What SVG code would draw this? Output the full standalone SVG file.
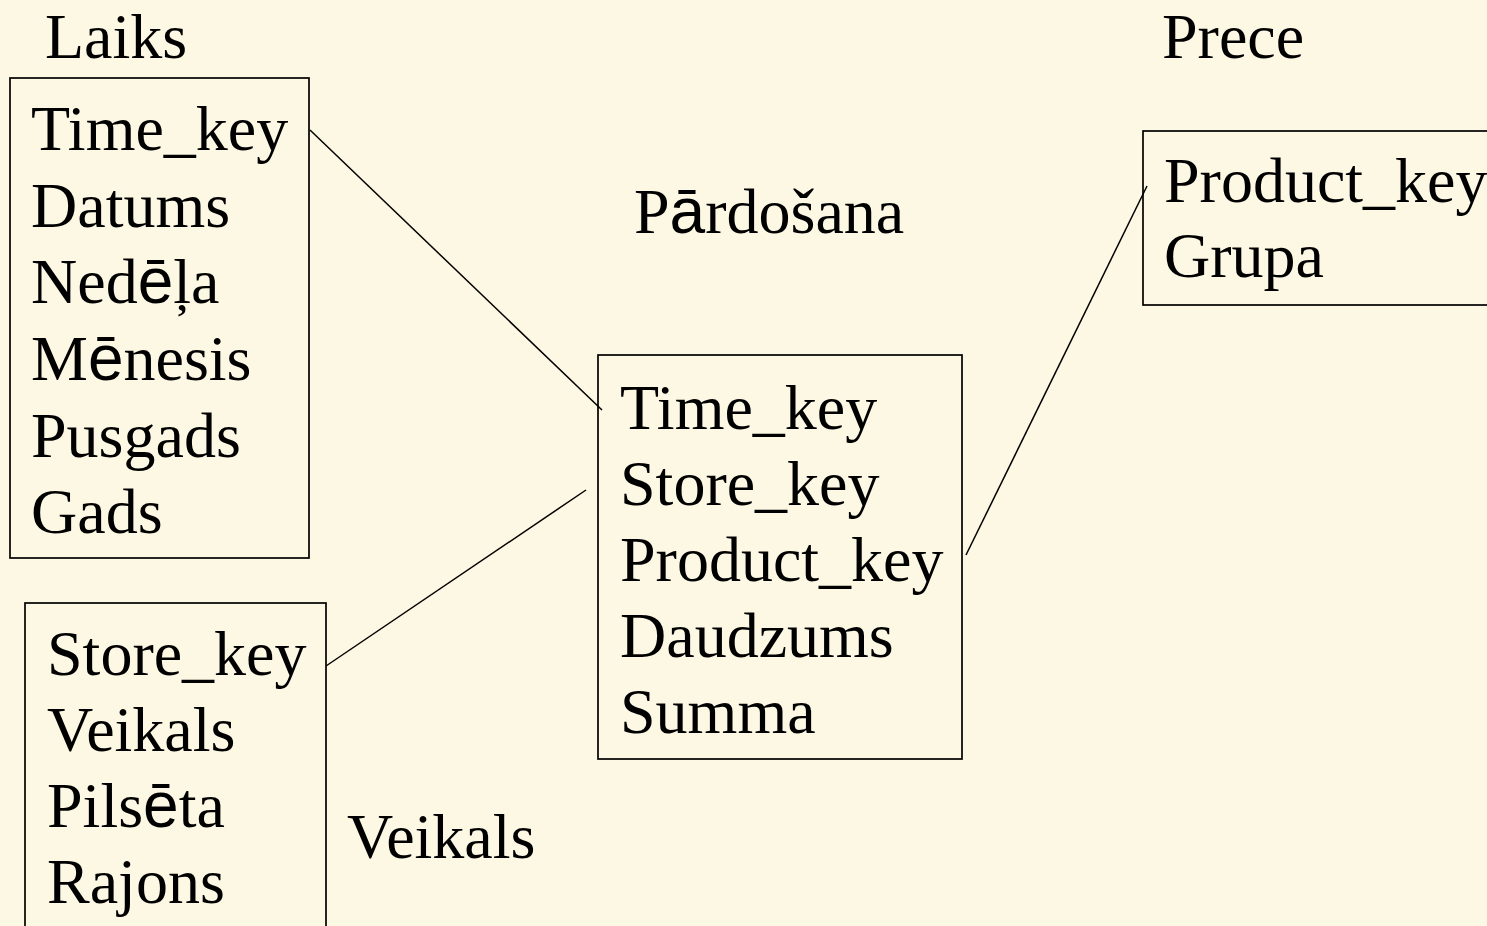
<svg xmlns="http://www.w3.org/2000/svg" width="1487" height="926" viewBox="0 0 1487 926">
<style>
text{font-family:"Liberation Serif","Times New Roman",serif;font-size:64px;fill:#000}
.s{font-family:"Liberation Sans",Arial,sans-serif}
.box{fill:none;stroke:#000;stroke-width:1.7}
.conn line{stroke:#000;stroke-width:1.5}
</style>
<rect width="1487" height="926" fill="#FDF8E3"/>
<g id="laiks">
<text x="45" y="58">Laiks</text>
<rect class="box" x="10" y="78" width="299" height="480"/>
<text x="31" y="150">Time_key</text>
<text x="31" y="227">Datums</text>
<text x="31" y="303">Ned<tspan class="s">ē</tspan>ļa</text>
<text x="31" y="380">M<tspan class="s">ē</tspan>nesis</text>
<text x="31" y="457">Pusgads</text>
<text x="31" y="533">Gads</text>
</g>
<g id="veikals">
<rect class="box" x="25" y="603" width="301" height="340"/>
<text x="47" y="675">Store_key</text>
<text x="47" y="751">Veikals</text>
<text x="47" y="827">Pils<tspan class="s">ē</tspan>ta</text>
<text x="47" y="903">Rajons</text>
<text x="347" y="858">Veikals</text>
</g>
<g id="pardosana">
<text x="634" y="233">P<tspan class="s">ā</tspan>rdošana</text>
<rect class="box" x="598" y="355" width="364" height="404"/>
<text x="620" y="429">Time_key</text>
<text x="620" y="505">Store_key</text>
<text x="620" y="581">Product_key</text>
<text x="620" y="657">Daudzums</text>
<text x="620" y="733">Summa</text>
</g>
<g id="prece">
<text x="1162" y="58">Prece</text>
<rect class="box" x="1143" y="131" width="360" height="174"/>
<text x="1164" y="202">Product_key</text>
<text x="1164" y="277">Grupa</text>
</g>
<g id="connectors" class="conn">
<line x1="310" y1="130" x2="602" y2="410"/>
<line x1="326" y1="666" x2="586" y2="490"/>
<line x1="966" y1="555" x2="1147" y2="186"/>
</g>
</svg>
